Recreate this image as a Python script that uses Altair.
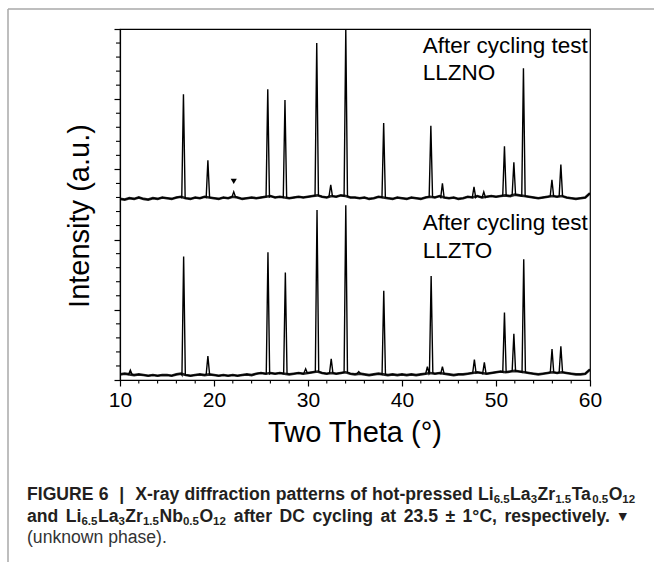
import altair as alt
import pandas as pd

# ---------------- data ----------------
GRID_START, GRID_STEP = 10.0, 0.5   # baseline samples every 0.5 degree, 10..60

llzno_baseline = [
    2.58, 2.57, 2.59, 2.58, 2.60, 2.58, 2.57, 2.59, 2.58, 2.60,
    2.59, 2.58, 2.60, 2.61, 2.59, 2.58, 2.60, 2.59, 2.61, 2.60,
    2.59, 2.58, 2.60, 2.59, 2.61, 2.60, 2.58, 2.59, 2.60, 2.59,
    2.60, 2.61, 2.62, 2.60, 2.61, 2.60, 2.59, 2.60, 2.61, 2.60,
    2.61, 2.62, 2.63, 2.61, 2.60, 2.62, 2.61, 2.63, 2.62, 2.60,
    2.60, 2.59, 2.60, 2.58, 2.59, 2.61, 2.60, 2.59, 2.58, 2.60,
    2.59, 2.58, 2.60, 2.59, 2.58, 2.60, 2.61, 2.60, 2.62, 2.60,
    2.59, 2.60, 2.58, 2.59, 2.61, 2.60, 2.62, 2.60, 2.61, 2.62,
    2.61, 2.62, 2.63, 2.62, 2.64, 2.63, 2.62, 2.61, 2.60, 2.59,
    2.60, 2.61, 2.62, 2.61, 2.62, 2.60, 2.59, 2.58, 2.59, 2.60,
    2.66,
]
llzto_baseline = [
    0.08, 0.09, 0.08, 0.07, 0.08, 0.07, 0.06, 0.07, 0.06, 0.07,
    0.07, 0.06, 0.08, 0.09, 0.07, 0.06, 0.07, 0.08, 0.07, 0.08,
    0.07, 0.06, 0.07, 0.06, 0.07, 0.06, 0.07, 0.08, 0.07, 0.09,
    0.10, 0.09, 0.10, 0.09, 0.10, 0.09, 0.08, 0.09, 0.10, 0.09,
    0.10, 0.11, 0.12, 0.10, 0.09, 0.10, 0.09, 0.10, 0.11, 0.09,
    0.08, 0.09, 0.08, 0.07, 0.08, 0.09, 0.08, 0.07, 0.08, 0.07,
    0.08, 0.07, 0.08, 0.07, 0.08, 0.09, 0.10, 0.09, 0.10, 0.09,
    0.08, 0.07, 0.08, 0.08, 0.09, 0.10, 0.11, 0.10, 0.09, 0.10,
    0.11, 0.12, 0.11, 0.12, 0.13, 0.12, 0.11, 0.10, 0.09, 0.08,
    0.09, 0.10, 0.11, 0.10, 0.11, 0.10, 0.09, 0.08, 0.08, 0.09,
    0.15,
]

llzno_peak_pos = [16.75, 19.35, 22.10, 25.72, 27.55, 30.93, 32.42, 34.02, 38.05,
                  43.07, 44.30, 47.66, 48.70, 50.90, 51.90, 52.92, 55.95, 56.90]
llzno_peak_int = [4.07, 3.13, 2.68, 4.14, 3.99, 4.80, 2.78, 5.00, 3.66,
                  3.62, 2.80, 2.75, 2.68, 3.33, 3.10, 4.44, 2.85, 3.07]

llzto_peak_pos = [11.10, 16.77, 19.35, 25.74, 27.59, 29.75, 30.96, 32.47, 34.02, 35.40,
                  38.06, 42.70, 43.10, 44.30, 47.70, 48.76, 50.90, 51.90, 52.95, 55.96, 56.90]
llzto_peak_int = [0.14, 1.76, 0.34, 1.82, 1.53, 0.16, 2.42, 0.30, 2.49, 0.12,
                  1.27, 0.19, 1.48, 0.19, 0.29, 0.25, 0.96, 0.66, 1.72, 0.44, 0.48]

unknown_pos = [22.1]
unknown_int = [2.83]

x_major = [10, 20, 30, 40, 50, 60]
x_minor = [12, 14, 16, 18, 22, 24, 26, 28, 32, 34, 36, 38, 42, 44, 46, 48, 52, 54, 56, 58]
y_major = [0, 1, 2, 3, 4, 5]
y_minor = [0.2, 0.4, 0.6, 0.8, 1.2, 1.4, 1.6, 1.8, 2.2, 2.4, 2.6, 2.8,
           3.2, 3.4, 3.6, 3.8, 4.2, 4.4, 4.6, 4.8]

label_text = ["After cycling test", "LLZNO", "After cycling test", "LLZTO"]
label_tt = [42.2, 42.2, 42.2, 42.2]
label_int = [4.66, 4.27, 2.14, 1.74]

x_title = "Two Theta (°)"
y_title = "Intensity (a.u.)"

# caption words; each word is a list of (text, is_subscript) pieces
caption_line1 = [[("FIGURE", 0)], [("6", 0)], [("|", 0)], [("X-ray", 0)], [("diffraction", 0)],
                 [("patterns", 0)], [("of", 0)], [("hot-pressed", 0)],
                 [("Li", 0), ("6.5", 1), ("La", 0), ("3", 1), ("Zr", 0), ("1.5", 1),
                  ("Ta", 0), ("0.5", 1), ("O", 0), ("12", 1)]]
caption_line2 = [[("and", 0)],
                 [("Li", 0), ("6.5", 1), ("La", 0), ("3", 1), ("Zr", 0), ("1.5", 1),
                  ("Nb", 0), ("0.5", 1), ("O", 0), ("12", 1)],
                 [("after", 0)], [("DC", 0)], [("cycling", 0)], [("at", 0)], [("23.5", 0)],
                 [("±", 0)], [("1°C,", 0)], [("respectively.", 0)]]
caption_symbol = "▼"
caption_line3 = "(unknown phase)."

# ---------------- build spectra ----------------
HW = 0.18


def build(baseline, pos, inten):
    grid = [GRID_START + GRID_STEP * i for i in range(len(baseline))]
    rows = []
    for g, b in zip(grid, baseline):
        if all(abs(g - p) > HW + 0.02 for p in pos):
            rows.append((g, b))
    for p, h in zip(pos, inten):
        b = baseline[int(round((p - GRID_START) / GRID_STEP))]
        rows += [(p - HW, b), (p, h), (p + HW, b)]
    return rows


def frame(name, rows):
    return pd.DataFrame({"tt": [r[0] for r in rows], "inten": [r[1] for r in rows],
                         "series": name})


spec = pd.concat([frame("LLZNO", build(llzno_baseline, llzno_peak_pos, llzno_peak_int)),
                  frame("LLZTO", build(llzto_baseline, llzto_peak_pos, llzto_peak_int))])
grid_x = [GRID_START + GRID_STEP * i for i in range(len(llzno_baseline))]
base_df = pd.concat([pd.DataFrame({"tt": grid_x, "inten": llzno_baseline, "series": "LLZNO"}),
                     pd.DataFrame({"tt": grid_x, "inten": llzto_baseline, "series": "LLZTO"})])

W, H = 470, 351
FONT = "Liberation Sans"
xs = alt.Scale(domain=[10, 60], nice=False, zero=False)
ys = alt.Scale(domain=[0, 5], nice=False, zero=False)

lines = alt.Chart(spec).mark_line(color="black", strokeWidth=1.4, clip=True).encode(
    x=alt.X("tt:Q", scale=xs, axis=alt.Axis(
        values=x_major, title=None, grid=False, tickSize=6, tickWidth=1.2, tickColor="black",
        domainColor="black", domainWidth=1.2, labelFontSize=21, labelFont=FONT,
        labelColor="black", labelPadding=3, labelFlush=False)),
    y=alt.Y("inten:Q", scale=ys, axis=alt.Axis(
        values=y_major, title=None, grid=False, labels=False, tickSize=6, tickWidth=1.2,
        tickColor="black", domainColor="black", domainWidth=1.2)),
    detail="series:N",
)
noise = alt.Chart(base_df).mark_line(color="black", strokeWidth=2.6, opacity=0.85,
                                     clip=True).encode(
    x=alt.X("tt:Q", scale=xs), y=alt.Y("inten:Q", scale=ys), detail="series:N")

xminor = alt.Chart(pd.DataFrame({"tt": x_minor})).mark_rule(color="black", strokeWidth=1.1).encode(
    x=alt.X("tt:Q", scale=xs), y=alt.value(H), y2=alt.value(H + 3.5))
yminor = alt.Chart(pd.DataFrame({"inten": y_minor})).mark_rule(color="black", strokeWidth=1.1).encode(
    y=alt.Y("inten:Q", scale=ys), x=alt.value(-4), x2=alt.value(0))

marker = alt.Chart(pd.DataFrame({"tt": unknown_pos, "inten": unknown_int})).mark_point(
    shape="triangle-down", filled=True, color="black", size=38, opacity=1).encode(
    x=alt.X("tt:Q", scale=xs), y=alt.Y("inten:Q", scale=ys))

labels = alt.Chart(pd.DataFrame({"tt": label_tt, "inten": label_int, "t": label_text})).mark_text(
    align="left", baseline="alphabetic", fontSize=22.5, font=FONT, color="black").encode(
    x=alt.X("tt:Q", scale=xs), y=alt.Y("inten:Q", scale=ys), text="t:N")

one = pd.DataFrame({"a": [0]})


def vtext(txt, px, py, size, font=FONT, weight="normal", color="black", align="left",
          baseline="alphabetic", angle=0):
    return alt.Chart(one).mark_text(align=align, baseline=baseline, fontSize=size, font=font,
                                    fontWeight=weight, color=color, angle=angle).encode(
        x=alt.value(px), y=alt.value(py), text=alt.value(txt))


xt = vtext(x_title, W / 2, 413, 29, align="center")
yt = vtext(y_title, -40, 187, 29, align="center", baseline="middle", angle=270)

# figure frame (page border)
frame_v = alt.Chart(one).mark_rule(color="#a9a9a9", strokeWidth=1.5).encode(
    x=alt.value(-112), y=alt.value(-20), y2=alt.value(700))
frame_h = alt.Chart(one).mark_rule(color="#a9a9a9", strokeWidth=1.5).encode(
    x=alt.value(-112), x2=alt.value(700), y=alt.value(-20))

# ---------------- caption layout ----------------
BW = {' ': 278, '|': 280, '-': 333, '.': 278, ',': 278, '±': 549, '°': 400,
      'A': 722, 'C': 722, 'D': 722, 'E': 667, 'F': 611, 'G': 778, 'I': 278, 'L': 611,
      'N': 722, 'O': 778, 'R': 722, 'T': 611, 'U': 722, 'X': 667, 'Z': 611,
      'a': 556, 'b': 611, 'c': 556, 'd': 611, 'e': 556, 'f': 333, 'g': 611, 'h': 611,
      'i': 278, 'l': 278, 'n': 611, 'o': 611, 'p': 611, 'r': 389, 's': 556, 't': 333,
      'v': 556, 'y': 556}
MAIN, SUB = 17.6, 11.5
CAP_COLOR = "#231f20"


def tw(s, size):
    return sum(BW.get(c, 556) for c in s) * size / 1000.0


CAP_X = -93
cap_layers = []


def lay(words, py, space):
    x = CAP_X
    for w in words:
        for t, sub in w:
            size = SUB if sub else MAIN
            cap_layers.append(vtext(t, x, py + (2.5 if sub else 0), size, weight="bold",
                                    color=CAP_COLOR))
            x += tw(t, size) + (0.5 if sub else 0)
        x += space(w)
    return x


sp = tw(" ", MAIN)
lay(caption_line1, 471, lambda w: sp + (6 if w[0][0] in ("6", "|") else 0.3))
end2 = lay(caption_line2, 493, lambda w: sp + 2.6)
cap_layers.append(vtext(caption_symbol, end2, 491, 11, font="DejaVu Sans", color=CAP_COLOR))
cap_layers.append(vtext(caption_line3, CAP_X, 514, MAIN, color="#333333"))

chart = alt.layer(
    frame_v, frame_h, noise, lines, xminor, yminor, marker, labels, xt, yt, *cap_layers
).properties(
    width=W, height=H,
    padding={"left": 120, "top": 29, "right": 64, "bottom": 182},
    autosize=alt.AutoSizeParams(type="none"),
    background="white",
).configure_view(stroke="black", strokeWidth=1.2)

chart.save("out.html", embed_options={"renderer": "svg", "actions": False})
